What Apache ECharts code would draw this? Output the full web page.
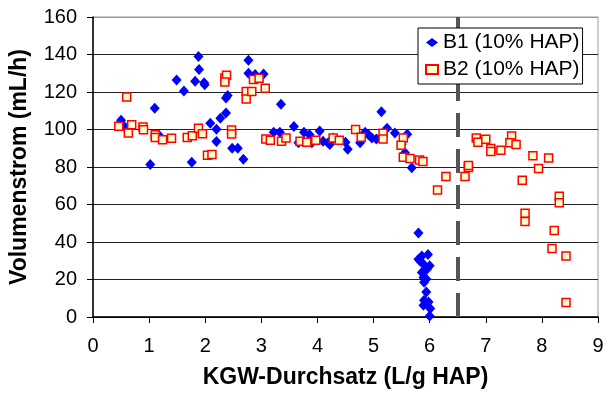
<!DOCTYPE html>
<html>
<head>
<meta charset="utf-8">
<script src="https://cdn.jsdelivr.net/npm/echarts@6/dist/echarts.min.js"></script>
<style>html,body{margin:0;padding:0;background:#fff}#c{width:608px;height:394px}</style>
</head>
<body>
<div id="c"></div>
<script>
const xTicks = [0,1,2,3,4,5,6,7,8,9];
const yTicks = [0,20,40,60,80,100,120,140,160];
const seriesNames = ['B1 (10% HAP)', 'B2 (10% HAP)'];
const breakX = 6.5;

const b1X = [0.50,0.56,1.02,1.10,1.20,1.49,1.62,1.76,1.82,1.88,1.89,1.98,1.99,2.09,2.20,2.20,2.27,2.37,2.37,2.40,2.48,2.58,2.68,2.77,2.77,2.89,3.04,3.22,3.33,3.35,3.58,3.66,3.76,3.86,3.90,4.04,4.10,4.19,4.22,4.28,4.50,4.54,4.76,4.85,4.91,4.97,5.05,5.14,5.24,5.38,5.60,5.50,5.56,5.68,5.80,5.80,5.83,5.86,5.97,5.89,6.00,5.95,5.86,5.89,5.94,5.90,5.94,5.90,5.89,5.98,6.01,6.00];
const b1Y = [104.9,101.6,81.4,111.3,96.1,126.4,120.5,82.5,125.8,139.0,132.0,125.0,123.9,103.4,100.2,93.6,106.0,108.8,116.8,118.2,90.0,90.0,84.1,136.9,130.0,129.4,129.6,98.6,98.6,113.5,101.6,92.9,98.6,97.2,92.9,99.2,93.8,92.9,92.0,95.5,93.2,89.5,92.9,98.5,97.2,95.5,95.0,109.5,100.7,98.1,97.5,92.0,87.6,79.6,44.8,30.8,29.9,32.5,33.4,28.2,27.3,25.5,23.8,21.1,20.3,18.5,13.3,8.9,6.3,8.0,4.6,0.5];

const b2X = [0.46,0.60,0.63,0.69,0.89,0.90,1.11,1.11,1.24,1.40,1.68,1.77,1.88,1.95,2.04,2.12,2.35,2.38,2.35,2.47,2.47,2.73,2.73,2.83,2.86,2.96,3.07,3.08,3.16,3.36,3.44,3.69,3.81,3.97,4.28,4.39,4.68,4.78,5.17,5.17,5.53,5.49,5.53,5.65,5.82,5.88,6.14,6.29,6.63,6.69,6.69,6.83,6.86,7.00,7.09,7.09,7.27,7.46,7.43,7.54,7.65,7.70,7.70,7.84,7.94,8.12,8.18,8.22,8.31,8.31,8.43,8.43];
const b2Y = [101.8,117.4,98.2,102.5,101.3,99.9,97.2,95.8,94.6,95.4,95.8,96.7,100.7,97.8,86.3,86.7,127.5,128.9,125.3,99.8,97.6,120.3,116.3,120.3,126.7,127.3,122.0,95.0,94.3,93.8,95.5,93.8,93.2,94.3,95.5,94.3,100.0,95.9,98.0,95.0,95.5,91.6,85.2,84.6,83.7,83.0,67.8,75.0,74.9,79.7,80.8,95.5,93.2,94.8,89.9,88.3,89.0,96.5,92.9,92.0,72.9,55.4,51.0,86.0,79.2,84.8,36.6,46.2,64.4,61.0,32.5,7.7];

const pairs = (xs, ys) => xs.map((x, i) => [x, ys[i]]);
const FONT = "'Liberation Sans', Arial, sans-serif";

const chart = echarts.init(document.getElementById('c'), null, {renderer: 'canvas'});
chart.setOption({
  animation: false,
  backgroundColor: '#fff',
  grid: {left: 93, right: 10, top: 17, bottom: 72, show: true, borderColor: '#999', borderWidth: 1, backgroundColor: 'transparent'},
  legend: {
    data: seriesNames,
    orient: 'vertical',
    left: 418, top: 28,
    backgroundColor: '#fff',
    borderColor: '#000', borderWidth: 1,
    padding: [4, 3, 4, 7],
    itemWidth: 12, itemHeight: 9, itemGap: 6,
    textStyle: {fontFamily: FONT, fontSize: 21, color: '#000', lineHeight: 21},
    z: 10
  },
  xAxis: {
    type: 'value', min: xTicks[0], max: xTicks[xTicks.length-1], interval: 1,
    name: 'KGW-Durchsatz (L/g HAP)', nameLocation: 'middle', nameGap: 49,
    nameTextStyle: {fontFamily: FONT, fontSize: 23, fontWeight: 'bold', color: '#000'},
    axisLine: {show: true, onZero: false, lineStyle: {color: '#000', width: 1.5}},
    axisTick: {show: true, inside: false, length: 6, lineStyle: {color: '#000', width: 1}},
    axisLabel: {fontFamily: FONT, fontSize: 20, color: '#000', margin: 19},
    splitLine: {show: false}
  },
  yAxis: {
    type: 'value', min: yTicks[0], max: yTicks[yTicks.length-1], interval: 20,
    name: 'Volumenstrom (mL/h)', nameLocation: 'middle', nameGap: 62,
    nameTextStyle: {fontFamily: FONT, fontSize: 23, fontWeight: 'bold', color: '#000'},
    axisLine: {show: true, onZero: false, lineStyle: {color: '#000', width: 1.5}},
    axisTick: {show: true, inside: false, length: 6, lineStyle: {color: '#000', width: 1}},
    axisLabel: {fontFamily: FONT, fontSize: 20, color: '#000', margin: 16},
    splitLine: {show: true, lineStyle: {color: ['#000','#222','#222','#222','#222','#222','#222','#222','#999'], width: 1}}
  },
  series: [
    {
      name: seriesNames[0], type: 'scatter',
      symbol: 'diamond', symbolSize: [10, 11],
      itemStyle: {color: '#0000FF', opacity: 1},
      data: pairs(b1X, b1Y),
      z: 3,
      markLine: {
        silent: true, symbol: ['none', 'none'], label: {show: false},
        lineStyle: {color: '#555', width: 4, type: [24, 12]},
        data: [{xAxis: breakX}],
        z: 2
      }
    },
    {
      name: seriesNames[1], type: 'scatter',
      symbol: 'rect', symbolSize: 8,
      itemStyle: {color: '#FFFFCC', borderColor: '#FF0000', borderWidth: 1.5, opacity: 1},
      data: pairs(b2X, b2Y),
      z: 4
    }
  ]
});
</script>
</body>
</html>
